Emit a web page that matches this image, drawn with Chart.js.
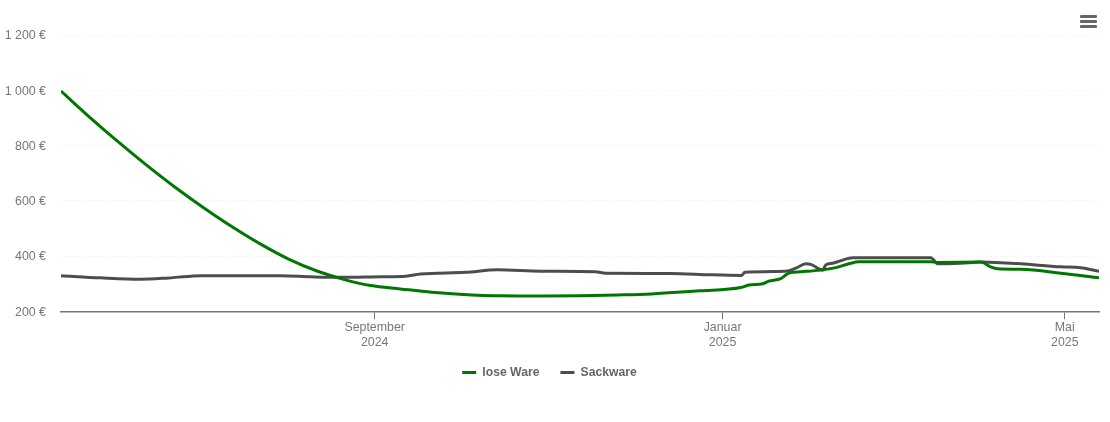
<!DOCTYPE html>
<html>
<head>
<meta charset="utf-8">
<style>
    body { margin: 0; background: #fff; }
    #wrap { position: relative; width: 1110px; height: 422px; }
    #menu { position: absolute; left: 1079.5px; top: 15px; width: 17px; }
    #menu div { height: 3px; background: #666; margin-bottom: 2px; border-radius: 1px; }
</style>
<script src="https://cdn.jsdelivr.net/npm/chart.js@4"></script>
</head>
<body>
<div id="wrap">
    <canvas id="price-chart" width="1110" height="422"></canvas>
    <div id="menu"><div></div><div></div><div></div></div>
</div>
<script>
// days counted from 1 Sep 2024
const looseDays = [-110, -100, -90, -80, -70, -60, -50, -40, -30, -20, -10, -1.4, 9, 20, 34, 44, 58, 72, 85, 97, 114, 128.4, 131.2, 136.1, 138.2, 142.4, 144.5, 145.9, 149.4, 156.4, 161.7, 166.3, 169.8, 195, 197.5, 212.6, 216, 218.5, 226.6, 240.6, 254];
const looseValues = [997, 903, 814, 729, 649, 575, 506, 443, 388, 345, 313, 293, 281, 269, 259, 256, 255, 256, 259, 263, 274, 286, 295, 300, 309, 318, 334, 340, 343, 349, 358, 372, 379, 379, 377, 378, 361, 354, 352, 338, 321];

const sackDays = [-110, -96.1, -82.1, -73.3, -64.5, -61, -33, -22.4, -13.7, 2.1, 10.9, 16.1, 31.9, 43.1, 58.2, 77.5, 81, 103.8, 117.9, 128.7, 129.8, 144.2, 147.7, 151.2, 152.9, 157.1, 158.2, 160.6, 166.3, 167.7, 195, 197.5, 205.5, 212.6, 219.6, 226.6, 240.6, 247.6, 254];
const sackValues = [329, 321, 316, 320, 327, 329, 329, 325, 323, 325, 327, 335, 341, 350, 345, 343, 338, 337, 332, 330, 341, 345, 356, 372, 370, 349, 368, 374, 392, 394, 394, 372, 374, 378, 376, 372, 361, 358, 345];

const monthTicks = [0, 122, 242];
const monthLabels = [['September', '2024'], ['Januar', '2025'], ['Mai', '2025']];

const toPoints = (days, values) => days.map((d, i) => ({ x: d, y: values[i] }));
const tickFont = { family: '"Liberation Sans", Arial, sans-serif', size: 12.4 };

// the legend needs a wide gap between items, so move it back up under the axis
const raiseLegend = {
    id: 'raiseLegend',
    afterLayout(chart) {
        chart.legend.top -= 11;
        chart.legend.bottom -= 11;
    }
};

new Chart(document.getElementById('price-chart').getContext('2d'), {
    type: 'line',
    data: {
        datasets: [{
            label: 'lose Ware',
            data: toPoints(looseDays, looseValues),
            borderColor: '#007700',
            backgroundColor: '#007700',
            borderWidth: 3,
            pointRadius: 0,
            cubicInterpolationMode: 'monotone'
        }, {
            label: 'Sackware',
            data: toPoints(sackDays, sackValues),
            borderColor: '#4d4d4d',
            backgroundColor: '#4d4d4d',
            borderWidth: 3,
            pointRadius: 0,
            cubicInterpolationMode: 'monotone'
        }]
    },
    plugins: [raiseLegend],
    options: {
        responsive: false,
        animation: false,
        layout: { padding: { top: 35, right: 11, bottom: 22.5, left: 0 } },
        plugins: {
            tooltip: { enabled: false },
            legend: {
                position: 'bottom',
                labels: {
                    usePointStyle: true,
                    pointStyle: 'line',
                    pointStyleWidth: 14,
                    color: '#666',
                    font: { family: tickFont.family, size: 12.2, weight: 'bold' },
                    padding: 21
                }
            }
        },
        scales: {
            x: {
                type: 'linear',
                min: -110,
                max: 254,
                afterBuildTicks: (axis) => { axis.ticks = monthTicks.map(v => ({ value: v })); },
                afterFit: (axis) => { axis.height = 45; },
                border: { color: '#777', width: 1.5 },
                grid: { drawOnChartArea: false, color: '#777', tickLength: 8 },
                ticks: {
                    autoSkip: false,
                    maxRotation: 0,
                    color: '#777',
                    font: tickFont,
                    padding: 1,
                    callback: (value) => monthLabels[monthTicks.indexOf(value)]
                }
            },
            y: {
                min: 200,
                max: 1200,
                afterFit: (axis) => { axis.width = 61; },
                border: { display: false, dash: [1, 2] },
                grid: { color: '#eeeeee', lineWidth: 1, drawTicks: false },
                ticks: {
                    stepSize: 200,
                    color: '#777',
                    font: tickFont,
                    padding: 15,
                    labelOffset: 1,
                    callback: (value) => String(value).replace(/\B(?=(\d{3})+$)/, ' ') + ' €'
                }
            }
        }
    }
});
</script>
</body>
</html>
